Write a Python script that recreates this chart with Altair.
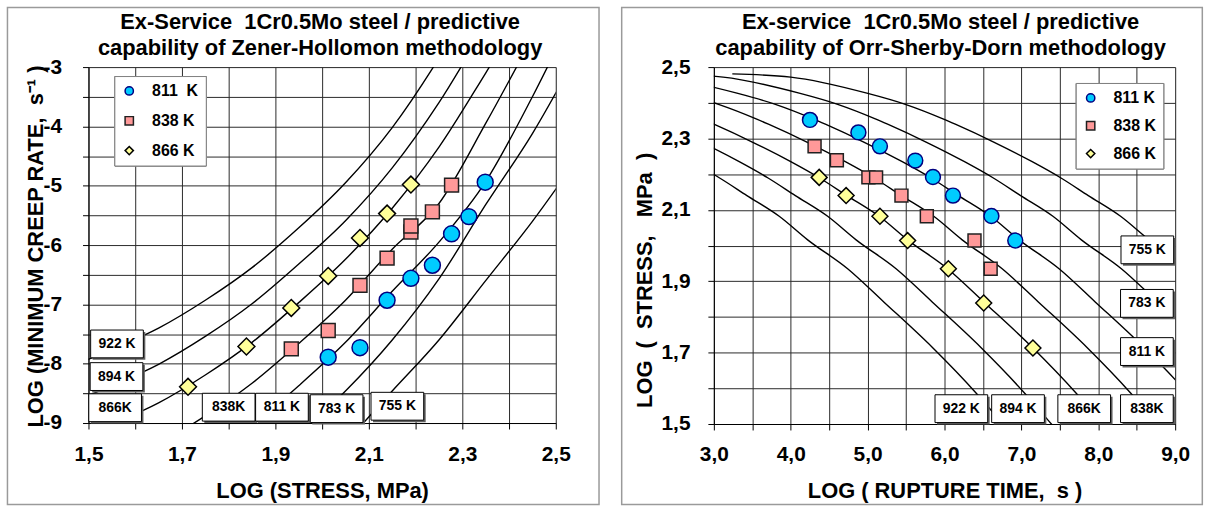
import altair as alt
import pandas as pd

FONT = "Liberation Sans"

# ---------------- Left panel: Zener-Hollomon ----------------
zh_x = [1.45, 1.55, 1.65, 1.75, 1.85, 1.95, 2.05, 2.15, 2.25, 2.35, 2.45, 2.55]
zh_922 = [-8.09, -7.76, -7.40, -6.93, -6.38, -5.71, -4.95, -4.02, -2.85, -1.50, -0.20, 1.20]
zh_894 = [-8.70, -8.37, -8.01, -7.54, -6.99, -6.32, -5.59, -4.70, -3.60, -2.30, -1.00, 0.40]
zh_866 = [-9.35, -9.02, -8.66, -8.19, -7.64, -6.97, -6.24, -5.38, -4.35, -3.10, -1.80, -0.40]
zh_838 = [-10.04, -9.71, -9.35, -8.88, -8.33, -7.66, -6.93, -6.07, -5.30, -3.95, -2.50, -1.00]
zh_811 = [-10.75, -10.42, -10.06, -9.59, -9.04, -8.37, -7.64, -6.78, -5.95, -4.93, -3.50, -1.90]
zh_783 = [-11.57, -11.24, -10.88, -10.41, -9.86, -9.19, -8.46, -7.60, -6.57, -5.32, -4.12, -2.72]
zh_755 = [-12.43, -12.10, -11.74, -11.27, -10.72, -10.05, -9.32, -8.46, -7.60, -6.60, -5.60, -4.50]

zh_p811_x = [2.013, 2.081, 2.139, 2.190, 2.236, 2.277, 2.314, 2.349]
zh_p811_y = [-7.89, -7.73, -6.93, -6.56, -6.34, -5.81, -5.52, -4.94]
zh_p838_x = [1.934, 2.013, 2.081, 2.139, 2.190, 2.190, 2.236, 2.277]
zh_p838_y = [-7.75, -7.44, -6.68, -6.22, -5.78, -5.68, -5.44, -4.99]
zh_p866_x = [1.713, 1.838, 1.934, 2.013, 2.081, 2.139, 2.190]
zh_p866_y = [-8.39, -7.71, -7.06, -6.52, -5.88, -5.47, -4.98]

zh_lab_text = ["922 K", "894 K", "866K", "838K", "811 K", "783 K", "755 K"]
zh_lab_x = [1.561, 1.560, 1.557, 1.800, 1.914, 2.031, 2.161]
zh_lab_y = [-7.667, -8.217, -8.742, -8.733, -8.733, -8.758, -8.717]

zh_xgrid = [1.5, 1.6, 1.7, 1.8, 1.9, 2.0, 2.1, 2.2, 2.3, 2.4, 2.5]
zh_ygrid = [-9, -8.5, -8, -7.5, -7, -6.5, -6, -5.5, -5, -4.5, -4, -3.5, -3]

# ---------------- Right panel: Orr-Sherby-Dorn ----------------
osd_y = [2.481, 2.472, 2.427, 2.395, 2.355, 2.34, 2.29, 2.235, 2.19, 2.14, 2.082, 2.016, 1.935, 1.842, 1.715, 1.587, 1.50, 1.44]
osd_922 = [-1.20, -0.44, 0.55, 1.06, 1.54, 1.70, 2.20, 2.70, 3.07, 3.43, 3.85, 4.22, 4.74, 5.21, 5.84, 6.41, 6.76, 7.00]
osd_894 = [-0.57, 0.19, 1.18, 1.69, 2.17, 2.33, 2.83, 3.33, 3.70, 4.06, 4.48, 4.85, 5.37, 5.84, 6.47, 7.04, 7.39, 7.63]
osd_866 = [0.10, 0.86, 1.85, 2.36, 2.84, 3.00, 3.50, 4.00, 4.37, 4.73, 5.15, 5.52, 6.04, 6.51, 7.14, 7.71, 8.06, 8.30]
osd_838 = [0.81, 1.57, 2.56, 3.07, 3.55, 3.71, 4.21, 4.71, 5.08, 5.44, 5.86, 6.23, 6.75, 7.22, 7.85, 8.42, 8.77, 9.01]
osd_811 = [1.55, 2.31, 3.30, 3.81, 4.29, 4.45, 4.95, 5.45, 5.82, 6.18, 6.60, 6.97, 7.49, 7.96, 8.59, 9.16, 9.51, 9.75]
osd_783 = [2.36, 3.12, 4.11, 4.62, 5.10, 5.26, 5.76, 6.26, 6.63, 6.99, 7.41, 7.78, 8.30, 8.77, 9.40, 9.97, 10.32, 10.56]
osd_755 = [3.24, 4.00, 4.99, 5.50, 5.98, 6.14, 6.64, 7.14, 7.51, 7.87, 8.29, 8.66, 9.18, 9.65, 10.28, 10.85, 11.20, 11.44]

osd_p811_x = [4.25, 4.88, 5.16, 5.62, 5.85, 6.11, 6.61, 6.92]
osd_p811_y = [2.352, 2.317, 2.278, 2.238, 2.192, 2.140, 2.083, 2.014]
osd_p838_x = [4.31, 4.60, 5.01, 5.11, 5.44, 5.77, 6.39, 6.60]
osd_p838_y = [2.278, 2.239, 2.191, 2.191, 2.140, 2.082, 2.014, 1.935]
osd_p866_x = [4.37, 4.72, 5.16, 5.52, 6.05, 6.51, 7.15]
osd_p866_y = [2.191, 2.140, 2.082, 2.014, 1.935, 1.839, 1.713]

osd_lab_text = ["755 K", "783 K", "811 K", "838K", "866K", "894 K", "922 K"]
osd_lab_x = [8.638, 8.632, 8.632, 8.632, 7.817, 6.956, 6.219]
osd_lab_y = [1.988, 1.838, 1.703, 1.543, 1.543, 1.543, 1.543]

osd_xgrid = [3.0, 3.5, 4.0, 4.5, 5.0, 5.5, 6.0, 6.5, 7.0, 7.5, 8.0, 8.5, 9.0]
osd_ygrid = [1.5, 1.6, 1.7, 1.8, 1.9, 2.0, 2.1, 2.2, 2.3, 2.4, 2.5]

# ---------------- styles ----------------
FILLS = ["#00ccff", "#ff9999", "#ffff99"]
STROKES = ["#000080", "#202020", "#000000"]
SHAPES = ["circle", "square", "diamond"]
BOX = "M-1,-0.528H1V0.528H-1Z"


def curves_df(xs_list, ys_list, names):
    rows = []
    for name, xs, ys in zip(names, xs_list, ys_list):
        for i, (a, b) in enumerate(zip(xs, ys)):
            rows.append({"T": name, "x": a, "y": b, "i": i})
    return pd.DataFrame(rows)


def points_df(names, xs_list, ys_list):
    rows = []
    for name, xs, ys in zip(names, xs_list, ys_list):
        for a, b in zip(xs, ys):
            rows.append({"T": name, "x": a, "y": b})
    return pd.DataFrame(rows)


def axis_common(**kw):
    base = dict(labelFont=FONT, labelFontSize=21, labelFontWeight="bold", labelColor="black",
                titleFont=FONT, titleFontSize=22, titleFontWeight="bold", titleColor="black",
                domainColor="black", domainWidth=1, tickColor="black", tickWidth=1,
                gridColor="#2a2a2a", gridWidth=1, gridOpacity=1, grid=True,
                labelOverlap=False, labelFlush=False)
    base.update(kw)
    return alt.Axis(**base)


def panel(curves, pts, labs, X, Y, title, title_x, dom, legend, sizes, frame, w, h):
    one = pd.DataFrame({"a": [0]})
    fr = alt.Chart(one).mark_rect(fillOpacity=0, stroke="#9a9a9a", strokeWidth=1.5).encode(
        x=alt.value(frame[0]), x2=alt.value(frame[1]),
        y=alt.value(frame[2]), y2=alt.value(frame[3]))
    lines = alt.Chart(curves).mark_line(clip=True, color="black", strokeWidth=1.4,
                                         interpolate="monotone").encode(
        x=X, y=Y, detail="T:N", order="i:Q")
    layers = [lines]
    for k, name in enumerate(dom):
        sub = pts[pts["T"] == name]
        layers.append(alt.Chart(sub).mark_point(filled=True, opacity=1, strokeWidth=1.5,
                                                size=sizes[k]).encode(
            x=X, y=Y,
            fill=alt.Fill("T:N", scale=alt.Scale(domain=dom, range=FILLS), legend=legend),
            stroke=alt.Stroke("T:N", scale=alt.Scale(domain=dom, range=STROKES), legend=legend),
            shape=alt.Shape("T:N", scale=alt.Scale(domain=dom, range=SHAPES), legend=legend),
        ))
    shadow = alt.Chart(labs).mark_point(shape=BOX, size=2809, filled=True, fill="#606060",
                                         opacity=1, xOffset=2, yOffset=2).encode(x=X, y=Y)
    box = alt.Chart(labs).mark_point(shape=BOX, size=2809, filled=True, fill="white",
                                      stroke="black", strokeWidth=1, opacity=1).encode(x=X, y=Y)
    txt = alt.Chart(labs).mark_text(font=FONT, fontSize=14, fontWeight="bold",
                                    color="black").encode(x=X, y=Y, text="t:N")
    t1 = alt.Chart(one).mark_text(font=FONT, fontSize=22, fontWeight="bold", color="black",
                                  align="center", baseline="middle").encode(
        x=alt.value(title_x), y=alt.value(-45), text=alt.value(title[0]))
    t2 = alt.Chart(one).mark_text(font=FONT, fontSize=22, fontWeight="bold", color="black",
                                  align="center", baseline="middle").encode(
        x=alt.value(title_x), y=alt.value(-19), text=alt.value(title[1]))
    layers += [shadow, box, txt, t1, t2, fr]
    return alt.layer(*layers).properties(width=w, height=h).resolve_scale(
        fill="independent", stroke="independent", shape="independent")


# ---- left ----
zh_names = ["922", "894", "866", "838", "811", "783", "755"]
zh_curves = curves_df([zh_x] * 7, [zh_922, zh_894, zh_866, zh_838, zh_811, zh_783, zh_755], zh_names)
zh_dom = ["811\u00a0\u00a0K", "838 K", "866 K"]
zh_pts = points_df(zh_dom, [zh_p811_x, zh_p838_x, zh_p866_x], [zh_p811_y, zh_p838_y, zh_p866_y])
zh_labs = pd.DataFrame({"t": zh_lab_text, "x": zh_lab_x, "y": zh_lab_y})

zh_X = alt.X("x:Q", scale=alt.Scale(domain=[1.5, 2.5], nice=False, zero=False),
             axis=axis_common(values=zh_xgrid, tickSize=6, labelPadding=15,
                              labelExpr="round(datum.value*10)%2==1 ? replace(format(datum.value,'.1f'),'.',',') : ''",
                              title="LOG (STRESS, MPa)", titleX=235, titleY=68,
                              titleBaseline="middle", titleAlign="center"))
zh_Y = alt.Y("y:Q", scale=alt.Scale(domain=[-9, -3], nice=False, zero=False),
             axis=axis_common(values=zh_ygrid, tickSize=6, labelPadding=21,
                              labelExpr="datum.value==round(datum.value) ? ''+datum.value : ''",
                              title="LOG (MINIMUM CREEP RATE, \u00a0s\u207b\u00b9 )", titleAngle=270,
                              titleX=-53, titleY=180, titleBaseline="middle", titleAlign="center"))
zh_leg = alt.Legend(orient="none", legendX=26, legendY=9, title=None, labelFont=FONT,
                    labelFontSize=16, labelFontWeight="bold", labelColor="black",
                    symbolSize=70, symbolStrokeWidth=1.5, padding=7, rowPadding=14,
                    labelOffset=15, fillColor="white", strokeColor="#808080")
left = panel(zh_curves, zh_pts, zh_labs, zh_X, zh_Y,
             ["Ex-Service \u00a01Cr0.5Mo steel / predictive", "capability of Zener-Hollomon methodology"],
             233, zh_dom, zh_leg, [256, 196, 289], (-81.5, 513.5, -60, 440), 470, 358)

# ---- right ----
osd_names = ["922", "894", "866", "838", "811", "783", "755"]
osd_curves = curves_df([osd_922, osd_894, osd_866, osd_838, osd_811, osd_783, osd_755], [osd_y] * 7, osd_names)
osd_dom = ["811 K", "838 K", "866 K"]
osd_pts = points_df(osd_dom, [osd_p811_x, osd_p838_x, osd_p866_x], [osd_p811_y, osd_p838_y, osd_p866_y])
osd_labs = pd.DataFrame({"t": osd_lab_text, "x": osd_lab_x, "y": osd_lab_y})

osd_X = alt.X("x:Q", scale=alt.Scale(domain=[3, 9], nice=False, zero=False),
              axis=axis_common(values=osd_xgrid, tickSize=6, labelPadding=14,
                               labelExpr="round(datum.value*2)%2==0 ? replace(format(datum.value,'.1f'),'.',',') : ''",
                               title="LOG ( RUPTURE TIME, \u00a0s )", titleX=232, titleY=67,
                               titleBaseline="middle", titleAlign="center"))
osd_Y = alt.Y("y:Q", scale=alt.Scale(domain=[1.5, 2.5], nice=False, zero=False),
              axis=axis_common(values=osd_ygrid, tickSize=6, labelPadding=18,
                               labelExpr="round(datum.value*10)%2==1 ? replace(format(datum.value,'.1f'),'.',',') : ''",
                               title="LOG \u00a0( \u00a0STRESS, \u00a0 MPa \u00a0)", titleAngle=270,
                               titleX=-70, titleY=214, titleBaseline="middle", titleAlign="center"))
osd_leg = alt.Legend(orient="none", legendX=364, legendY=16, title=None, labelFont=FONT,
                     labelFontSize=16, labelFontWeight="bold", labelColor="black",
                     symbolSize=70, symbolStrokeWidth=1.5, padding=7, rowPadding=12,
                     labelOffset=15, fillColor="white", strokeColor="#808080")
right = panel(osd_curves, osd_pts, osd_labs, osd_X, osd_Y,
              ["Ex-service \u00a01Cr0.5Mo steel / predictive", "capability of Orr-Sherby-Dorn methodology"],
              228, osd_dom, osd_leg, [225, 169, 256], (-92.7, 491.3, -60, 440), 464, 359)

chart = alt.hconcat(left, right, spacing=20).properties(
    padding={"left": 6, "top": 4, "right": 1, "bottom": 2}
).resolve_scale(x="independent", y="independent", fill="independent",
                stroke="independent", shape="independent").resolve_legend(
    fill="independent", stroke="independent", shape="independent"
).configure_view(fill="#d9d9d9", stroke="black", strokeWidth=1).configure(background="white")

chart.save("out.html", embed_options={"renderer": "svg", "actions": False})
